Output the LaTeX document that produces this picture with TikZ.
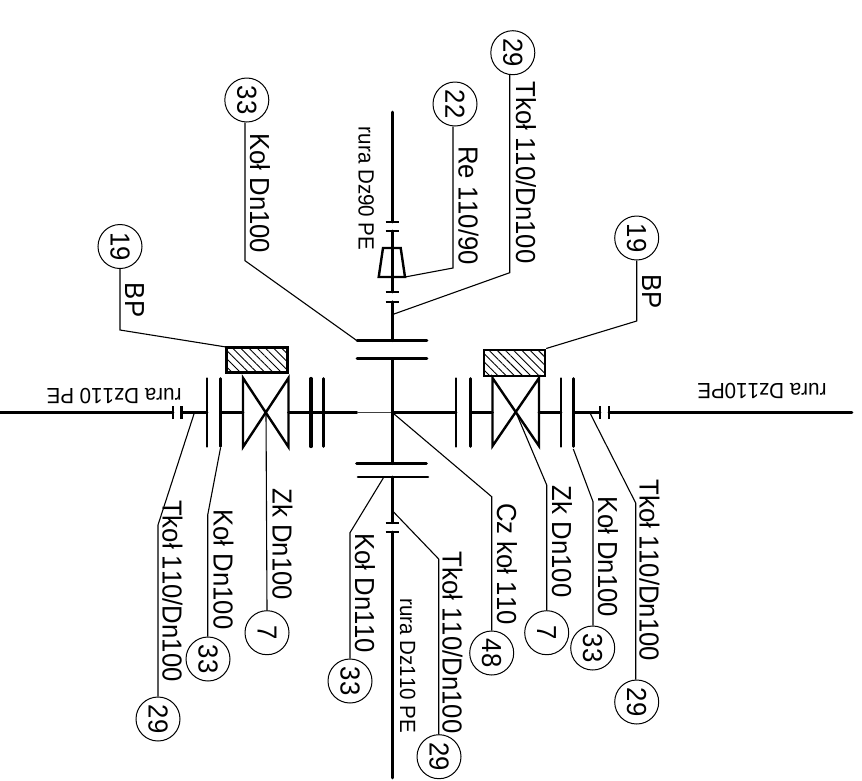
\documentclass[tikz,border=0pt]{standalone}
\usepackage{fontspec}
\setmainfont[Kerning=Off,FakeStretch=0.935]{Liberation Sans}
\usetikzlibrary{patterns.meta}
\tikzset{
  x=1pt,y=-1pt,
  pipe/.style={line width=2.6pt,line cap=round,line join=miter},
  flange/.style={line width=2.6pt,line cap=round},
  tick/.style={line width=2.4pt,line cap=butt},
  thinpipe/.style={line width=1.8pt,draw=black!75},
  leader/.style={line width=1.1pt,line join=miter},
  bubble/.style={circle,draw,line width=1.0pt,minimum size=44pt,inner sep=0pt,rotate=-90,fill=white,font=\fontsize{27.5}{30}\selectfont},
  lab/.style={anchor=base west,inner sep=0pt,rotate=-90,font=\fontsize{27.5}{30}\selectfont},
  smalllab/.style={anchor=base west,inner sep=0pt,font=\fontsize{22}{24}\selectfont},
  plate/.style={draw,line width=2.2pt,pattern={Lines[angle=-45,distance=5.8pt,line width=0.9pt]}},
  valve/.style={line width=2.4pt,line join=miter,line cap=round}
}
\begin{document}
\begin{tikzpicture}
\useasboundingbox (0,0) rectangle (862,780);
% junctions on the horizontal run
\coordinate (W) at (0,412.5);
\coordinate (C) at (392.3,412.5);
\coordinate (E) at (852,412.5);
\coordinate (LT1) at (173,412.5);
\coordinate (LT2) at (181.5,412.5);
\coordinate (LF1) at (207,412.5);
\coordinate (LF2) at (220.5,412.5);
\coordinate (LV1) at (243,412.5);
\coordinate (LV) at (266,412.5);
\coordinate (LV2) at (288.5,412.5);
\coordinate (LF3) at (311,412.5);
\coordinate (LF4) at (323.5,412.5);
\coordinate (LM) at (357,412.5);
\coordinate (RF1) at (456,412.5);
\coordinate (RF2) at (470.7,412.5);
\coordinate (RV1) at (492.5,412.5);
\coordinate (RV) at (516,412.5);
\coordinate (RV2) at (539,412.5);
\coordinate (RF3) at (561,412.5);
\coordinate (RF4) at (573.3,412.5);
\coordinate (RT1) at (600,412.5);
\coordinate (RT2) at (609,412.5);
% junctions on the vertical run
\coordinate (N) at (392.3,112);
\coordinate (S) at (392.3,778);
\coordinate (UT1) at (392.3,222);
\coordinate (UT2) at (392.3,231);
\coordinate (UT3) at (392.3,292);
\coordinate (UT4) at (392.3,301.7);
\coordinate (UF1) at (392.3,340.7);
\coordinate (UF2) at (392.3,358.3);
\coordinate (DF1) at (392.3,463.7);
\coordinate (DF2) at (392.3,477);
\coordinate (DT1) at (392.3,522.7);
\coordinate (DT2) at (392.3,532);
% pipes
\draw[pipe] (W) -- (LT1) (LT2) -- (LF1) (LF2) -- (LV1) (LV2) -- (LF3);
\draw[pipe] (LF3) -- (LF4);
\draw[pipe,line width=2.2pt] (LF4) -- (LM);
\draw[thinpipe] (LM) -- (C);
\draw[pipe] (C) -- (RF1) (RF2) -- (RV1) (RV2) -- (RF3) (RF4) -- (RT1) (RT2) -- (E);
\draw[pipe] (N) -- (UT1) (UT2) -- (UT3) (UT4) -- (UF1) (UF2) -- (DF1) (DF2) -- (DT1) (DT2) -- (S);
% flanges, horizontal run
\foreach \p in {LF1,LF2,LF4,RF1,RF2,RF3,RF4}{
  \draw[flange] ([yshift=-34pt]\p) -- ([yshift=34pt]\p);
}
\draw[flange,line width=3.2pt] ([yshift=-34pt]LF3) -- ([yshift=34pt]LF3);
% ticks, horizontal run
\foreach \p in {LT1,LT2,RT1,RT2}{
  \draw[tick] ([yshift=-6.5pt]\p) -- ([yshift=6.5pt]\p);
}
% flanges, vertical run
\foreach \p/\a/\b in {UF1/-35.3/34.7,UF2/-35.3/34.7,DF1/-35.8/34.2,DF2/-34.3/35.7}{
  \draw[flange] ([xshift=\a pt]\p) -- ([xshift=\b pt]\p);
}
% ticks, vertical run
\foreach \p in {UT1,UT2,UT3,UT4,DT1,DT2}{
  \draw[tick] ([xshift=-6.7pt]\p) -- ([xshift=6.7pt]\p);
}
% valves
\draw[valve] (243,378) -- (288.5,447) -- (288.5,378) -- (243,447) -- cycle;
\draw[valve] (492.5,378) -- (539,446) -- (539,378) -- (492.5,446) -- cycle;
% hatched plates
\node[plate,minimum width=61pt,minimum height=25pt,inner sep=0pt,anchor=north west] (PL) at (226,347) {};
\node[plate,minimum width=61.5pt,minimum height=26.5pt,inner sep=0pt,anchor=north west] (PR) at (482.5,348.5) {};
% reducer
\draw[valve] (383,248) -- (400.7,248) -- (405,277) -- (378.7,277) -- cycle;
\coordinate (RD) at (405,277);
% bubbles
\node[bubble] (a33) at (246.8,100) {33};
\node[bubble] (a22) at (455,104) {22};
\node[bubble] (a29) at (512.8,52.7) {29};
\node[bubble] (l19) at (120,246.5) {19};
\node[bubble] (r19) at (636.7,238) {19};
\node[bubble] (b29l) at (158,719) {29};
\node[bubble] (b33l) at (208,659) {33};
\node[bubble] (b7l) at (267,632.7) {7};
\node[bubble] (b33c) at (350,681) {33};
\node[bubble] (b29c) at (439,756.7) {29};
\node[bubble] (b48) at (491.7,653) {48};
\node[bubble] (b7r) at (546.7,632.7) {7};
\node[bubble] (b33r) at (592.7,648) {33};
\node[bubble] (b29r) at (636.7,702) {29};
% leader bends and free ends
\coordinate (k1) at (245,260.7);
\coordinate (k2) at (453,268);
\coordinate (k3) at (509.7,272.7);
\coordinate (e3) at (394,314);
\coordinate (k4) at (120,330);
\coordinate (k5) at (636.7,321);
\coordinate (k6) at (158,525);
\coordinate (e6) at (194.3,413);
\coordinate (k7) at (207.7,515);
\coordinate (e7) at (220.5,448);
\coordinate (k9) at (350,532.7);
\coordinate (e9) at (383.3,478);
\coordinate (k10) at (438.7,559);
\coordinate (e10) at (393.3,511.7);
\coordinate (k11) at (491.7,496.7);
\coordinate (k12) at (546.7,485);
\coordinate (k13) at (593,501.7);
\coordinate (e13) at (573.3,449);
\coordinate (k14) at (635.7,503);
\coordinate (e14) at (590,413);
% leaders
\draw[leader] (k1 |- a33.east) -- (k1) -- ([xshift=-35.3pt]UF1);
\draw[leader] (k2 |- a22.east) -- (k2) -- (RD);
\draw[leader] (k3 |- a29.east) -- (k3) -- (e3);
\draw[leader] (l19.east) -- (k4) -- (PL.north west);
\draw[leader] (r19.east) -- (k5) -- (PR.north east);
\draw[leader] (k6 |- b29l.west) -- (k6) -- (e6);
\draw[leader] (k7 |- b33l.west) -- (k7) -- (e7);
\draw[leader] (b7l.west) -- (LV);
\draw[leader] (k9 |- b33c.west) -- (k9) -- (e9);
\draw[leader] (k10 |- b29c.west) -- (k10) -- (e10);
\draw[leader] (b48.west) -- (k11) -- (C);
\draw[leader] (b7r.west) -- (k12) -- (RV);
\draw[leader] (k13 |- b33r.west) -- (k13) -- (e13);
\draw[leader] (k14 |- b29r.west) -- (k14) -- (e14);
% labels
\node[lab] (t1) at (250,133) {Koł Dn100};
\node[lab] (t2) at (458.5,146) {Re 110/90};
\node[lab] (t3) at (516,81.7) {Tkoł 110/Dn100};
\node[lab] (t4) at (125,282.7) {BP};
\node[lab] (t5) at (642,274.3) {BP};
\node[lab] (t6) at (162.5,500) {Tkoł 110/Dn100};
\node[lab] (t7) at (213.5,509.3) {Koł Dn100};
\node[lab] (t8) at (272.5,488.3) {Zk Dn100};
\node[lab] (t9) at (355,533) {Koł Dn110};
\node[lab] (t10) at (442.7,551.7) {Tkoł 110/Dn100};
\node[lab] (t11) at (497,503) {Cz koł 110};
\node[lab] (t12) at (552,485.7) {Zk Dn100};
\node[lab] (t13) at (598,496.7) {Koł Dn100};
\node[lab] (t14) at (639.5,479.3) {Tkoł 110/Dn100};
\node[smalllab,rotate=-90] (p1) at (358.5,126.7) {rura Dz90 PE};
\node[smalllab,rotate=-90] (p2) at (400,598.3) {rura Dz110 PE};
\node[smalllab,rotate=180] (p3) at (181.7,388) {rura Dz110 PE};
\node[smalllab,rotate=180] (p4) at (826.7,383) {rura Dz110PE};
\end{tikzpicture}
\end{document}
